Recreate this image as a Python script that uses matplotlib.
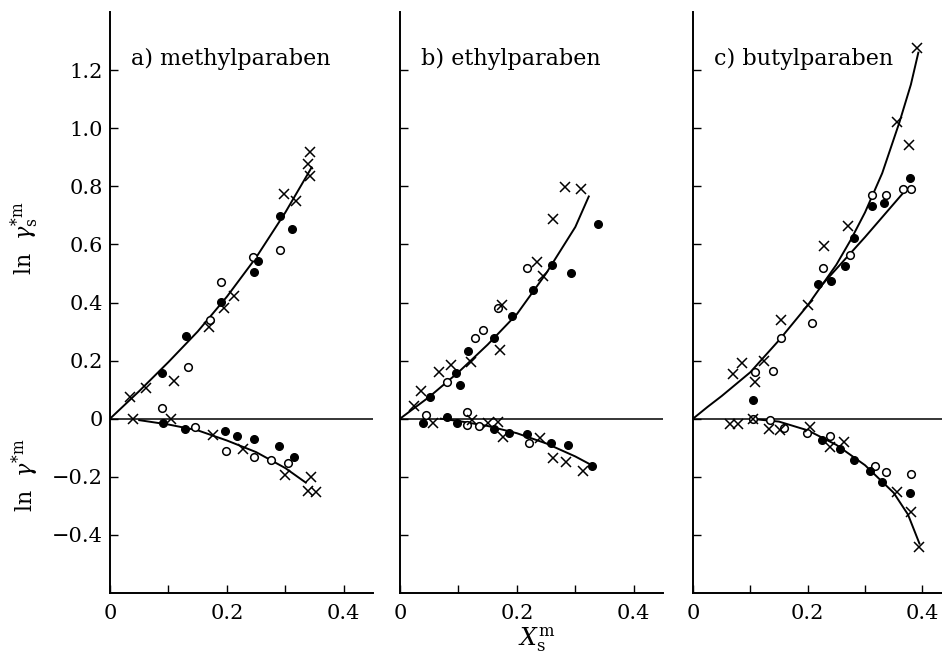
import matplotlib
matplotlib.use('Agg')
import matplotlib.pyplot as plt

plt.rcParams['font.family'] = ['DejaVu Serif']
plt.rcParams['mathtext.fontset'] = 'dejavuserif'

titles = ['a) methylparaben', 'b) ethylparaben', 'c) butylparaben']

# panel a (methylparaben)
a_open_x = [0.190, 0.244, 0.291, 0.171, 0.134, 0.089, 0.145, 0.198, 0.246, 0.276, 0.304]
a_open_y = [0.469, 0.557, 0.581, 0.340, 0.179, 0.038, -0.029, -0.111, -0.133, -0.143, -0.153]
a_fill_x = [0.291, 0.312, 0.253, 0.246, 0.190, 0.130, 0.089, 0.091, 0.129, 0.197, 0.217, 0.247, 0.290, 0.315]
a_fill_y = [0.697, 0.652, 0.542, 0.505, 0.402, 0.286, 0.157, -0.014, -0.034, -0.043, -0.061, -0.070, -0.094, -0.133]
a_cross_x = [0.343, 0.339, 0.343, 0.298, 0.319, 0.212, 0.195, 0.170, 0.109, 0.062, 0.034,
             0.040, 0.104, 0.177, 0.228, 0.300, 0.344, 0.338, 0.352]
a_cross_y = [0.918, 0.878, 0.837, 0.772, 0.751, 0.423, 0.382, 0.315, 0.131, 0.106, 0.074,
             0.0, 0.0, -0.057, -0.103, -0.194, -0.201, -0.248, -0.254]
a_curve_up_x = [0, 0.05, 0.10, 0.15, 0.20, 0.25, 0.30, 0.345]
a_curve_up_y = [0, 0.095, 0.195, 0.30, 0.42, 0.555, 0.71, 0.865]
a_curve_lo_x = [0.05, 0.10, 0.15, 0.20, 0.25, 0.30, 0.335]
a_curve_lo_y = [-0.005, -0.02, -0.04, -0.075, -0.115, -0.17, -0.22]

# panel b (ethylparaben)
b_open_x = [0.217, 0.168, 0.128, 0.142, 0.081, 0.044, 0.114, 0.114, 0.136, 0.220]
b_open_y = [0.520, 0.380, 0.277, 0.307, 0.128, 0.014, 0.023, -0.023, -0.025, -0.083]
b_fill_x = [0.339, 0.260, 0.293, 0.228, 0.191, 0.160, 0.117, 0.096, 0.103, 0.051,
            0.039, 0.080, 0.097, 0.161, 0.187, 0.217, 0.258, 0.287, 0.328]
b_fill_y = [0.671, 0.529, 0.501, 0.443, 0.353, 0.277, 0.234, 0.157, 0.117, 0.074,
            -0.014, 0.006, -0.014, -0.037, -0.049, -0.051, -0.082, -0.091, -0.162]
b_cross_x = [0.283, 0.309, 0.262, 0.235, 0.245, 0.175, 0.171, 0.122, 0.088, 0.067, 0.036, 0.024,
             0.057, 0.123, 0.151, 0.168, 0.177, 0.239, 0.262, 0.284, 0.313]
b_cross_y = [0.797, 0.791, 0.686, 0.541, 0.492, 0.392, 0.235, 0.195, 0.185, 0.160, 0.097, 0.043,
             -0.014, -0.006, -0.014, -0.011, -0.063, -0.066, -0.137, -0.149, -0.181]
b_curve_up_x = [0, 0.05, 0.10, 0.15, 0.20, 0.25, 0.30, 0.323]
b_curve_up_y = [0, 0.075, 0.16, 0.255, 0.36, 0.50, 0.66, 0.765]
b_curve_lo_x = [0.07, 0.10, 0.15, 0.20, 0.25, 0.30, 0.328]
b_curve_lo_y = [0.0, -0.008, -0.025, -0.05, -0.085, -0.13, -0.16]

# panel c (butylparaben)
c_open_x = [0.366, 0.381, 0.312, 0.336, 0.274, 0.227, 0.208, 0.153, 0.109, 0.139,
            0.105, 0.134, 0.159, 0.199, 0.239, 0.317, 0.336, 0.380]
c_open_y = [0.792, 0.789, 0.770, 0.770, 0.564, 0.520, 0.328, 0.277, 0.160, 0.164,
            0.0, -0.003, -0.031, -0.049, -0.061, -0.162, -0.183, -0.189]
c_fill_x = [0.378, 0.313, 0.333, 0.281, 0.265, 0.218, 0.240, 0.104,
            0.225, 0.257, 0.280, 0.308, 0.330, 0.378]
c_fill_y = [0.829, 0.732, 0.741, 0.623, 0.526, 0.463, 0.474, 0.065,
            -0.074, -0.106, -0.143, -0.181, -0.217, -0.255]
c_cross_x = [0.391, 0.356, 0.376, 0.271, 0.229, 0.201, 0.153, 0.086, 0.124, 0.070, 0.109,
             0.064, 0.079, 0.105, 0.133, 0.152, 0.204, 0.239, 0.263, 0.356, 0.381, 0.395]
c_cross_y = [1.275, 1.023, 0.943, 0.663, 0.595, 0.391, 0.341, 0.192, 0.198, 0.154, 0.128,
             -0.017, -0.017, 0.0, -0.034, -0.040, -0.027, -0.097, -0.080, -0.254, -0.320, -0.443]
c_curve_up_x = [0, 0.025, 0.05, 0.10, 0.15, 0.20, 0.25, 0.275, 0.30, 0.33, 0.36, 0.38, 0.393]
c_curve_up_y = [0, 0.04, 0.078, 0.16, 0.27, 0.39, 0.53, 0.615, 0.71, 0.845, 1.02, 1.15, 1.26]
c_curve_mid_x = [0.22, 0.30, 0.37]
c_curve_mid_y = [0.45, 0.625, 0.785]
c_curve_lo_x = [0.10, 0.15, 0.20, 0.25, 0.30, 0.35, 0.375, 0.395]
c_curve_lo_y = [0.0, -0.01, -0.04, -0.09, -0.16, -0.255, -0.33, -0.43]

yticks = [-0.4, -0.2, 0, 0.2, 0.4, 0.6, 0.8, 1.0, 1.2]
ytick_labels = ['\u22120.4', '\u22120.2', '0', '0.2', '0.4', '0.6', '0.8', '1.0', '1.2']
xticks = [0, 0.2, 0.4]
xtick_labels = ['0', '0.2', '0.4']

fig = plt.figure(figsize=(9.42, 6.56), dpi=100)
W, H = 942, 656
# left px, width px (panel c runs past the right edge like the scanned figure)
boxes = [(110, 263), (400, 263), (693, 258)]
top, bottom = 12, 593

panels = [
    (a_open_x, a_open_y, a_fill_x, a_fill_y, a_cross_x, a_cross_y,
     [(a_curve_up_x, a_curve_up_y), (a_curve_lo_x, a_curve_lo_y)]),
    (b_open_x, b_open_y, b_fill_x, b_fill_y, b_cross_x, b_cross_y,
     [(b_curve_up_x, b_curve_up_y), (b_curve_lo_x, b_curve_lo_y)]),
    (c_open_x, c_open_y, c_fill_x, c_fill_y, c_cross_x, c_cross_y,
     [(c_curve_up_x, c_curve_up_y), (c_curve_mid_x, c_curve_mid_y), (c_curve_lo_x, c_curve_lo_y)]),
]

for i, (box, data) in enumerate(zip(boxes, panels)):
    left, width = box
    ax = fig.add_axes([left / W, (H - bottom) / H, width / W, (bottom - top) / H])
    ox, oy, fx, fy, cx, cy, curves = data
    ax.axhline(0, color='black', lw=1.1, zorder=1)
    for xs, ys in curves:
        ax.plot(xs, ys, color='black', lw=1.4, zorder=2)
    ax.plot(ox, oy, 'o', ms=5.5, mfc='white', mec='black', mew=1.1, ls='none', zorder=3)
    ax.plot(fx, fy, 'o', ms=5.5, mfc='black', mec='black', ls='none', zorder=3)
    ax.plot(cx, cy, 'x', ms=7, mec='black', mew=1.1, ls='none', zorder=4)

    ax.set_xlim(0, 0.45)
    ax.set_ylim(-0.6, 1.4)
    ax.spines['top'].set_visible(False)
    ax.spines['right'].set_visible(False)
    ax.spines['left'].set_linewidth(1.4)
    ax.spines['bottom'].set_linewidth(1.4)
    ax.set_xticks(xticks)
    ax.set_xticklabels(xtick_labels)
    ax.set_xticks([0.1, 0.3], minor=True)
    ax.set_yticks(yticks)
    if i == 0:
        ax.set_yticklabels(ytick_labels)
    else:
        ax.set_yticklabels([])
    ax.tick_params(axis='both', which='both', direction='in', length=6, width=1, labelsize=15)
    ax.tick_params(axis='x', pad=8)
    ax.tick_params(axis='y', pad=5)
    ax.text(0.036, 1.24, titles[i], fontsize=16, va='center', ha='left')

fig.text(25 / W, 1 - 238 / H, r'$\mathrm{ln}\ \ \gamma_{\mathrm{s}}^{*\mathrm{m}}$',
         rotation=90, fontsize=16, ha='center', va='center')
fig.text(25 / W, 1 - 475 / H, r'$\mathrm{ln}\ \ \gamma^{*\mathrm{m}}$',
         rotation=90, fontsize=16, ha='center', va='center')
fig.text(537 / W, 1 - 640 / H, r'$X_{\mathrm{s}}^{\mathrm{m}}$', fontsize=17, ha='center', va='center')

fig.savefig('out.png', dpi=100)
